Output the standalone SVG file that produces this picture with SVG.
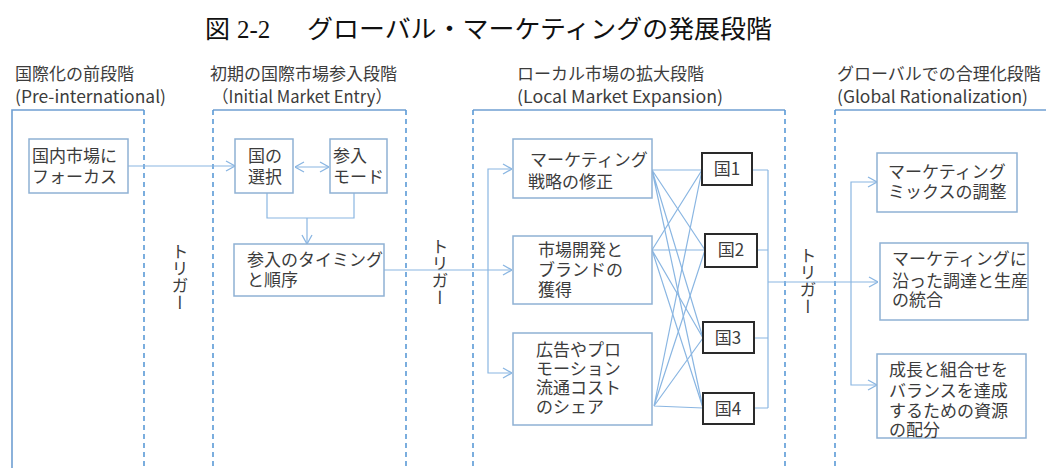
<svg xmlns="http://www.w3.org/2000/svg" width="1046" height="468" viewBox="0 0 1046 468">
<defs>
<style>
.t{font-family:"Noto Sans CJK JP","Noto Sans",sans-serif;font-size:17px;fill:#3c3c3c}
.title{font-family:"Liberation Serif","Noto Sans CJK JP",serif;font-size:25px;fill:#111}
.vt{font-family:"Noto Sans CJK JP",sans-serif;font-size:17px;fill:#3c3c3c;writing-mode:vertical-rl}
.solid{stroke:#6f9fd2;stroke-width:1.6;fill:none}
.dash{stroke:#5a9ad6;stroke-width:1.6;fill:none;stroke-dasharray:5 4}
.box{fill:#fff;stroke:#8fb1d4;stroke-width:1.5}
.cbox{fill:#fff;stroke:#2a2a2a;stroke-width:2}
.ln{stroke:#8ab6e2;stroke-width:1.2;fill:none}
</style>
<marker id="arr" viewBox="0 0 10 12" refX="10" refY="6" markerWidth="10" markerHeight="12" markerUnits="userSpaceOnUse" orient="auto-start-reverse">
<path d="M1,1 L10,6 L1,11" fill="none" stroke="#8ab6e2" stroke-width="1.3"/>
</marker>
</defs>
<rect width="1046" height="468" fill="#fff"/>

<g id="title">
<text class="title" x="205" y="38">図<tspan x="237">2-2</tspan><tspan x="307" textLength="465" lengthAdjust="spacingAndGlyphs">グローバル・マーケティングの発展段階</tspan></text>
</g>

<g id="panels">
<path class="solid" d="M12,468 V110 H144"/>
<path class="dash" d="M144,110 V468"/>
<path class="solid" d="M213,110 H406"/>
<path class="dash" d="M213,110 V468 M406,110 V468"/>
<path class="solid" d="M473,110 H785"/>
<path class="dash" d="M473,110 V468 M785,110 V468"/>
<path class="solid" d="M835,110 H1046"/>
<path class="dash" d="M835,110 V468"/>
</g>

<g id="headers">
<text class="t" x="15" y="80">国際化の前段階<tspan x="15" y="103" textLength="151" lengthAdjust="spacingAndGlyphs">(Pre-international)</tspan></text>
<text class="t" x="210" y="80">初期の国際市場参入段階<tspan x="212" y="103" textLength="180" lengthAdjust="spacingAndGlyphs">（Initial Market Entry）</tspan></text>
<text class="t" x="517" y="80">ローカル市場の拡大段階<tspan x="517" y="103" textLength="206" lengthAdjust="spacingAndGlyphs">(Local Market Expansion)</tspan></text>
<text class="t" x="837" y="80">グローバルでの合理化段階<tspan x="837" y="103" textLength="191" lengthAdjust="spacingAndGlyphs">(Global Rationalization)</tspan></text>
</g>

<g id="triggers">
<text class="vt" x="180" y="243">トリガー</text>
<text class="vt" x="440" y="238">トリガー</text>
<text class="vt" x="808" y="247">トリガー</text>
</g>

<g id="connectors">
<line class="ln" x1="128" y1="166" x2="235" y2="166" marker-end="url(#arr)"/>
<line class="ln" x1="295" y1="167" x2="329" y2="167" marker-start="url(#arr)" marker-end="url(#arr)"/>
<path class="ln" d="M267,193 V218 H354 V193"/>
<line class="ln" x1="307" y1="218" x2="307" y2="244" marker-end="url(#arr)"/>
<line class="ln" x1="384" y1="270" x2="512" y2="270" marker-end="url(#arr)"/>
<path class="ln" d="M512,169 H488 V373 H512" marker-start="url(#arr)" marker-end="url(#arr)"/>
<g id="cross">
<path class="ln" d="M652,170 L702,170 M652,170 L705,250 M652,170 L703,338 M652,170 L703,408"/>
<path class="ln" d="M652,250 L702,170 M652,250 L705,250 M652,250 L703,338 M652,250 L703,408"/>
<path class="ln" d="M654,406 L702,170 M654,406 L705,250 M654,406 L703,338 M654,406 L703,408"/>
</g>
<path class="ln" d="M752,170 H768 M757,250 H768 M754,338 H768 M754,408 H768 M768,170 V408"/>
<line class="ln" x1="768" y1="282" x2="878" y2="282" marker-end="url(#arr)"/>
<path class="ln" d="M877,182 H851 V385 H877" marker-start="url(#arr)" marker-end="url(#arr)"/>
</g>

<g id="n_domestic">
<rect class="box" x="29" y="139" width="99" height="54"/>
<text class="t" x="32" y="162">国内市場に<tspan x="32" y="183">フォーカス</tspan></text>
</g>
<g id="n_country_sel">
<rect class="box" x="235" y="139" width="58" height="54"/>
<text class="t" x="248" y="162">国の<tspan x="248" y="183">選択</tspan></text>
</g>
<g id="n_entry_mode">
<rect class="box" x="330" y="139" width="57" height="54"/>
<text class="t" x="333" y="162">参入<tspan x="333" y="183">モード</tspan></text>
</g>
<g id="n_timing">
<rect class="box" x="234" y="244" width="150" height="52"/>
<text class="t" x="247" y="266">参入のタイミング<tspan x="247" y="286">と順序</tspan></text>
</g>

<g id="n_strategy">
<rect class="box" x="513" y="139" width="139" height="59"/>
<text class="t" x="530" y="166">マーケティング<tspan x="528" y="188">戦略の修正</tspan></text>
</g>
<g id="n_market_dev">
<rect class="box" x="513" y="236" width="139" height="68"/>
<text class="t" x="538" y="256">市場開発と<tspan x="538" y="276">ブランドの</tspan><tspan x="538" y="296">獲得</tspan></text>
</g>
<g id="n_ad_share">
<rect class="box" x="513" y="333" width="139" height="92"/>
<text class="t" x="536" y="356">広告やプロ<tspan x="536" y="375">モーション</tspan><tspan x="536" y="394">流通コスト</tspan><tspan x="536" y="413">のシェア</tspan></text>
</g>

<g id="n_c1">
<rect class="cbox" x="702" y="153" width="50" height="32"/>
<text class="t" x="727" y="175" text-anchor="middle">国1</text>
</g>
<g id="n_c2">
<rect class="cbox" x="705" y="234" width="52" height="33"/>
<text class="t" x="731" y="256" text-anchor="middle">国2</text>
</g>
<g id="n_c3">
<rect class="cbox" x="703" y="322" width="51" height="31"/>
<text class="t" x="728" y="344" text-anchor="middle">国3</text>
</g>
<g id="n_c4">
<rect class="cbox" x="703" y="393" width="51" height="31"/>
<text class="t" x="728" y="415" text-anchor="middle">国4</text>
</g>

<g id="n_mix">
<rect class="box" x="877" y="153" width="140" height="59"/>
<text class="t" x="888" y="178">マーケティング<tspan x="888" y="198">ミックスの調整</tspan></text>
</g>
<g id="n_integration">
<rect class="box" x="880" y="243" width="148" height="77"/>
<text class="t" x="892" y="265">マーケティングに<tspan x="892" y="287">沿った調達と生産</tspan><tspan x="892" y="306">の統合</tspan></text>
</g>
<g id="n_resources">
<rect class="box" x="877" y="354" width="149" height="84"/>
<text class="t" x="889" y="376">成長と組合せを<tspan x="889" y="397">バランスを達成</tspan><tspan x="889" y="417">するための資源</tspan><tspan x="889" y="436">の配分</tspan></text>
</g>
</svg>
